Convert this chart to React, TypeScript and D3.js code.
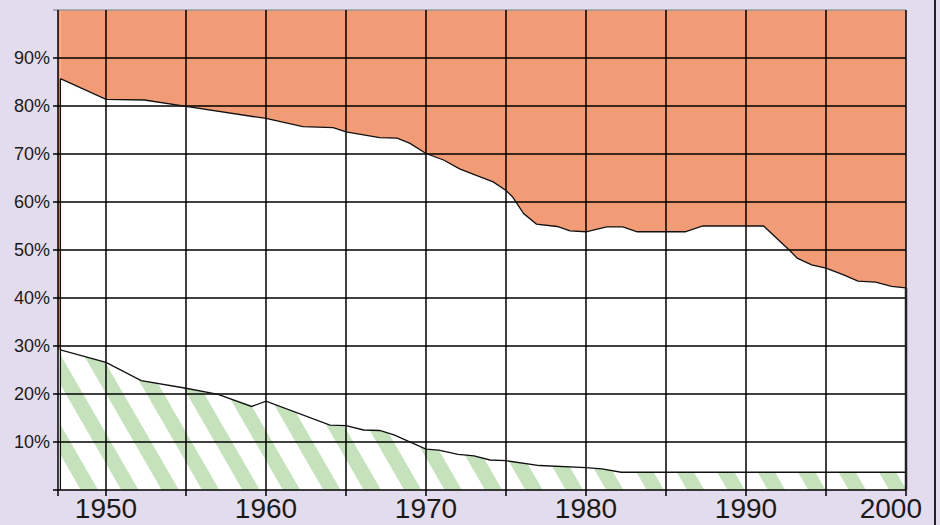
import * as d3 from "d3";

// upper boundary (white / orange), share in %
const topYears = [
  1947.15, 1950, 1952.4, 1955, 1960, 1962.3, 1964.2, 1965, 1967.1, 1968.2, 1969,
  1970, 1971.1, 1972.1, 1973.1, 1974.2, 1975, 1975.4, 1976.1, 1976.9, 1978.2,
  1979, 1980, 1981.3, 1982.3, 1983.2, 1986.2, 1987.3, 1991.1, 1992.7, 1993.2,
  1994.1, 1995, 1996.1, 1997, 1998.1, 1999.1, 2000,
];
const topValues = [
  85.7, 81.4, 81.25, 79.9, 77.4, 75.7, 75.5, 74.6, 73.4, 73.3, 72.2, 70.1, 68.75,
  66.9, 65.6, 64.2, 62.4, 61.1, 57.6, 55.4, 54.9, 54.0, 53.8, 54.8, 54.8, 53.8,
  53.8, 55.0, 55.0, 50.0, 48.3, 46.9, 46.2, 44.8, 43.5, 43.3, 42.4, 42.1,
];

// lower boundary (green hatched / white), share in %
const bottomYears = [
  1947.15, 1950, 1952.2, 1955, 1957, 1959.1, 1960, 1964, 1965, 1966.1, 1967.1,
  1968, 1970, 1970.8, 1972, 1973, 1974, 1975, 1977.1, 1980, 1981, 1982.2, 2000,
];
const bottomValues = [
  29.2, 26.6, 22.8, 21.2, 19.9, 17.4, 18.5, 13.5, 13.4, 12.5, 12.4, 11.5, 8.5,
  8.3, 7.4, 7.1, 6.25, 6.1, 5.1, 4.65, 4.4, 3.7, 3.7,
];

const yTicks = [10, 20, 30, 40, 50, 60, 70, 80, 90];
const xGrid = [1950, 1955, 1960, 1965, 1970, 1975, 1980, 1985, 1990, 1995, 2000];
const xLabels = [1950, 1960, 1970, 1980, 1990, 2000];

const W = 940;
const H = 525;
const colors = {
  bg: "#e3dcee",
  orange: "#f19c76",
  green: "#c6e2bd",
  text: "#1a1a1a",
};

export default function App() {
  const x = d3.scaleLinear().domain([1947, 2000]).range([58, 906]);
  const y = d3.scaleLinear().domain([0, 100]).range([490, 10]);

  const top = topYears.map((t, i) => ({ t, v: topValues[i] }));
  const bottom = bottomYears.map((t, i) => ({ t, v: bottomValues[i] }));

  const orangeArea = d3
    .area<{ t: number; v: number }>()
    .x((d) => x(d.t))
    .y0(y(100))
    .y1((d) => y(d.v));
  const greenArea = d3
    .area<{ t: number; v: number }>()
    .x((d) => x(d.t))
    .y0(y(0))
    .y1((d) => y(d.v));
  const line = d3
    .line<{ t: number; v: number }>()
    .x((d) => x(d.t))
    .y((d) => y(d.v));

  const first = topYears[0];
  const last = topYears[topYears.length - 1];

  return (
    <div style={{ position: "absolute", left: 0, top: 0 }}>
      <svg width={W} height={H} style={{ display: "block" }}>
        <defs>
          <pattern
            id="hatch"
            patternUnits="userSpaceOnUse"
            width={35}
            height={20}
            patternTransform="rotate(-30)"
          >
            <rect x={0} y={0} width={35} height={20} fill="#fff" />
            <rect x={0} y={0} width={15} height={20} fill={colors.green} />
          </pattern>
        </defs>
        <rect width={W} height={H} fill={colors.bg} />
        <line x1={935} x2={935} y1={0} y2={H} stroke="#222" strokeWidth={2} />

        {/* plot */}
        <rect x={x(1947)} y={y(100)} width={x(2000) - x(1947)} height={y(0) - y(100)} fill="#fff" />
        <path d={orangeArea(top)!} fill={colors.orange} />
        {/* thin orange sliver left of the first point */}
        <rect
          x={x(1947)}
          y={y(100)}
          width={x(first) - x(1947)}
          height={y(bottomValues[0]) - y(100)}
          fill={colors.orange}
        />
        <path d={greenArea(bottom)!} fill="url(#hatch)" />

        {/* grid */}
        {yTicks.map((t) => (
          <line key={t} x1={53} x2={x(2000)} y1={y(t)} y2={y(t)} stroke="#000" strokeWidth={1.5} />
        ))}
        <line x1={53} x2={x(2000)} y1={y(100)} y2={y(100)} stroke="#9a9a9a" strokeWidth={1.5} />
        {xGrid.map((t) => (
          <line key={t} x1={x(t)} x2={x(t)} y1={y(100)} y2={y(0) + 6} stroke="#000" strokeWidth={1.5} />
        ))}

        {/* series outlines */}
        <path d={line(top)!} fill="none" stroke="#111" strokeWidth={1.3} />
        <path d={line(bottom)!} fill="none" stroke="#111" strokeWidth={1.3} />
        <line x1={x(first)} x2={x(first)} y1={y(topValues[0])} y2={y(0)} stroke="#111" strokeWidth={1.3} />
        <line x1={x(last)} x2={x(last)} y1={y(topValues[topValues.length - 1])} y2={y(0)} stroke="#222" strokeWidth={2.5} />

        {/* axes */}
        <line x1={x(1947)} x2={x(1947)} y1={y(100)} y2={y(0) + 6} stroke="#000" strokeWidth={1.5} />
        <line x1={53} x2={x(2000)} y1={y(0)} y2={y(0)} stroke="#000" strokeWidth={1.5} />

        {yTicks.map((t) => (
          <text
            key={t}
            x={50}
            y={y(t)}
            dy="0.35em"
            textAnchor="end"
            fontFamily="Liberation Sans, Arial, sans-serif"
            fontSize={18}
            fill={colors.text}
          >
            {t}%
          </text>
        ))}
        {xLabels.map((t, i) => (
          <text
            key={t}
            x={i === xLabels.length - 1 ? x(t) + 16 : x(t)}
            y={518}
            textAnchor={i === xLabels.length - 1 ? "end" : "middle"}
            fontFamily="Liberation Sans, Arial, sans-serif"
            fontSize={28}
            fill={colors.text}
          >
            {t}
          </text>
        ))}
      </svg>
    </div>
  );
}
